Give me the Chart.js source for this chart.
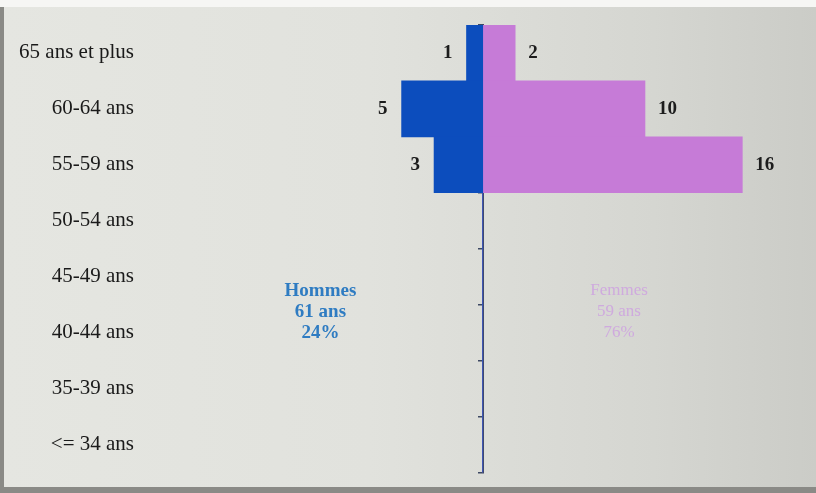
<!DOCTYPE html>
<html>
<head>
<meta charset="utf-8">
<script src="https://cdn.jsdelivr.net/npm/chart.js@4.4.1/dist/chart.umd.min.js"></script>
<style>
  html, body { margin: 0; padding: 0; }
  body {
    width: 816px; height: 493px; overflow: hidden;
    background: #8a8a86;
  }
  #fond {
    position: absolute; left: 4px; top: 7px; width: 812px; height: 480px;
    background: linear-gradient(to right, #e5e6e1 0%, #e1e2dd 45%, #d5d6d1 80%, #cbccc7 100%);
  }
  #haut { position: absolute; left: 0; top: 0; width: 816px; height: 7px; background: #f6f6f4; }
  #wrap { position: absolute; left: 0; top: 0; width: 816px; height: 493px; }
</style>
</head>
<body>
<div id="haut"></div>
<div id="fond"></div>
<div id="wrap"><canvas id="pyramide"></canvas></div>
<script>
// Tranches d'âge (du haut vers le bas)
const tranches = ["65 ans et plus", "60-64 ans", "55-59 ans", "50-54 ans", "45-49 ans", "40-44 ans", "35-39 ans", "<= 34 ans"];
// Effectifs
const hommes = [1, 5, 3, 0, 0, 0, 0, 0];
const femmes = [2, 10, 16, 0, 0, 0, 0, 0];
// Encadrés de synthèse
const resumeHommes = ["Hommes", "61 ans", "24%"];
const resumeFemmes = ["Femmes", "59 ans", "76%"];

const serif = "'Liberation Serif', 'Times New Roman', serif";

// Valeurs affichées au bout des barres
const etiquettesValeurs = {
    id: "etiquettesValeurs",
    afterDatasetsDraw(chart) {
        const ctx = chart.ctx;
        ctx.save();
        ctx.font = "bold 19px " + serif;
        ctx.fillStyle = "#1c1c1c";
        ctx.textBaseline = "middle";
        chart.data.datasets.forEach((ds, i) => {
            const meta = chart.getDatasetMeta(i);
            meta.data.forEach((bar, j) => {
                const v = Math.abs(ds.data[j]);
                if (!v) return;
                if (ds.data[j] < 0) {
                    ctx.textAlign = "right";
                    ctx.fillText(v, bar.x - 14, bar.y);
                } else {
                    ctx.textAlign = "left";
                    ctx.fillText(v, bar.x + 13, bar.y);
                }
            });
        });
        ctx.restore();
    }
};

// Textes Hommes / Femmes au milieu
const resumes = {
    id: "resumes",
    afterDatasetsDraw(chart) {
        const ctx = chart.ctx;
        const x = chart.scales.x, y = chart.scales.y;
        const yc = y.getPixelForValue(4.63);
        ctx.save();
        ctx.textAlign = "center";
        ctx.textBaseline = "middle";
        ctx.font = "bold 19px " + serif;
        ctx.fillStyle = "#2f7cc2";
        resumeHommes.forEach((t, k) => ctx.fillText(t, x.getPixelForValue(-10), yc + (k - 1) * 21));
        ctx.font = "17px " + serif;
        ctx.fillStyle = "#cfaade";
        resumeFemmes.forEach((t, k) => ctx.fillText(t, x.getPixelForValue(8.4), yc + (k - 1) * 21));
        ctx.restore();
    }
};

const dataPyramide = {
    labels: tranches,
    datasets: [{
        label: "Hommes",
        data: hommes.map(v => -v),
        backgroundColor: "#0c4dbd",
        barPercentage: 1,
        categoryPercentage: 1
    }, {
        label: "Femmes",
        data: femmes,
        backgroundColor: "#c67bd7",
        barPercentage: 1,
        categoryPercentage: 1
    }]
};

const configPyramide = {
    type: "bar",
    data: dataPyramide,
    options: {
        indexAxis: "y",
        responsive: false,
        animation: false,
        layout: { padding: { top: 25, bottom: 19, right: 25, left: 0 } },
        plugins: {
            legend: { display: false },
            tooltip: { enabled: false }
        },
        scales: {
            x: {
                stacked: true,
                min: -21,
                max: 19,
                display: false
            },
            y: {
                stacked: true,
                grid: { display: false, drawTicks: false },
                border: { display: false },
                ticks: {
                    color: "#1a1a1a",
                    font: { family: serif, size: 21 },
                    padding: 8
                },
                afterFit(scale) { scale.width = 142; }
            },
            axe: {
                type: "category",
                axis: "y",
                labels: tranches,
                position: { x: 0 },
                offset: true,
                z: 1,
                grid: {
                    offset: true,
                    drawOnChartArea: false,
                    drawTicks: true,
                    tickLength: 4,
                    color: "#3d4863",
                    lineWidth: 1.5
                },
                border: { display: true, color: "#3d4863", width: 2 },
                ticks: { display: false }
            }
        }
    },
    plugins: [etiquettesValeurs, resumes]
};

const canvas = document.getElementById("pyramide");
canvas.width = 816;
canvas.height = 493;
new Chart(canvas, configPyramide);
</script>
</body>
</html>
